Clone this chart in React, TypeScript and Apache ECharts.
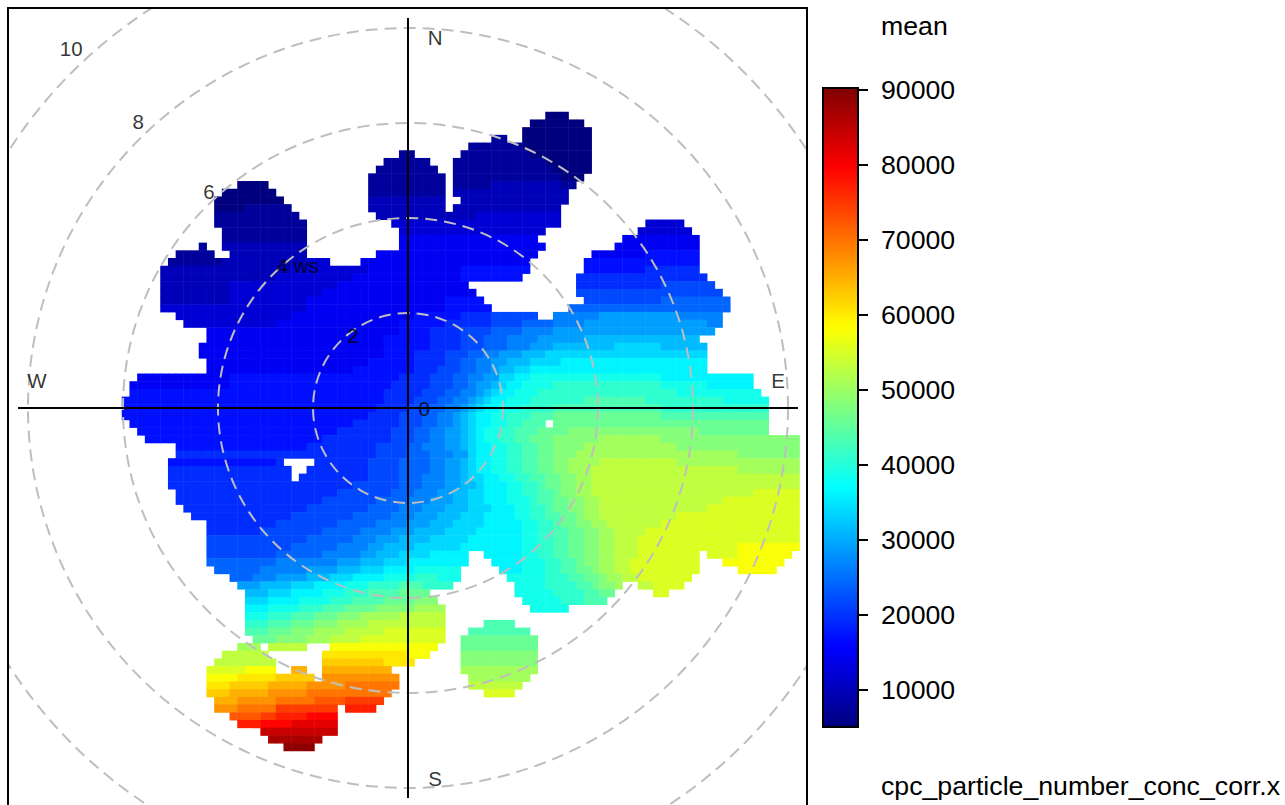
import React, { useEffect, useRef } from "react";
import * as echarts from "echarts";

const FONT = "Liberation Sans";

// Colour key: values, one run-coded row per band.
// A row alternates: column, level, column, level, ... end column. "_" is a cell with no data.
const LEVELS = "0123456789ABCDEFGHIJKLMNOPQRSTUVWXYZ";
const LEVEL_BASE = 5000;
const LEVEL_STEP = 2400;
const COLS = 88;

const CELL_ROWS = [
  "55 0 58",
  "53 0 60",
  "52 0 61",
  "48 1 50 _ 52 0 61",
  "45 1 52 0 61",
  "36 1 38 _ 44 1 53 0 61",
  "34 1 40 _ 43 1 55 0 61",
  "33 1 41 _ 43 1 56 0 61",
  "32 1 42 _ 43 1 57 0 60",
  "15 0 19 _ 32 1 42 _ 43 1 48 2 57 1 59",
  "13 0 20 _ 32 1 42 _ 43 2 58",
  "12 0 21 _ 32 2 42 _ 44 2 58",
  "12 0 16 1 22 _ 32 2 42 _ 43 2 57",
  "12 1 23 _ 33 2 46 3 57",
  "12 1 24 _ 35 3 57 _ 68 3 73",
  "13 1 24 _ 36 3 55 _ 67 3 74",
  "13 1 24 _ 36 4 54 _ 65 4 75",
  "10 1 11 _ 13 2 24 _ 36 4 55 _ 64 4 75",
  "7 1 12 _ 14 2 24 _ 33 4 54 _ 61 4 68 5 75",
  "6 1 13 2 24 3 27 _ 31 4 53 _ 60 5 75",
  "5 2 22 3 32 4 44 5 53 _ 60 5 68 6 75",
  "5 2 20 3 30 4 44 5 52 _ 59 6 76",
  "5 2 14 3 28 4 45 _ 59 6 70 7 77",
  "5 2 14 3 26 4 46 _ 59 7 78",
  "5 2 14 3 24 4 42 5 47 _ 60 7 70 8 79",
  "5 3 24 4 42 5 48 _ 58 8 79",
  "7 3 22 4 38 5 44 6 48 7 54 _ 56 9 62 A 72 9 78",
  "8 3 20 4 36 5 42 6 48 7 52 8 56 9 60 A 76 9 78",
  "11 4 36 5 40 6 44 7 48 8 52 9 56 A 77",
  "11 4 34 5 40 6 44 7 47 8 50 9 54 A 60 B 75",
  "10 4 34 5 40 6 44 7 47 8 50 9 53 A 56 B 64 C 70 B 76",
  "10 4 34 5 38 6 42 7 45 8 47 9 49 A 52 B 55 C 76",
  "11 4 32 5 38 6 42 7 44 8 46 9 48 A 50 B 53 C 57 D 76",
  "11 4 30 5 38 6 41 7 44 8 46 9 48 A 49 B 51 C 53 D 76",
  "2 4 14 5 36 6 40 7 43 8 45 9 47 A 49 C 51 D 53 E 70 D 82",
  "1 4 14 5 35 6 40 7 43 8 45 9 46 A 48 B 49 C 50 D 52 E 56 F 70 E 76 D 82",
  "1 5 34 6 39 7 42 8 44 9 46 A 47 B 48 C 49 D 51 E 54 F 72 E 83",
  "0 5 34 6 38 7 41 8 43 9 45 A 46 B 47 C 48 D 50 E 53 F 60 G 68 F 78 E 84",
  "0 5 33 6 37 7 40 8 42 9 44 A 45 B 46 C 47 D 49 E 52 F 56 G 70 F 84",
  "0 5 32 6 36 7 39 8 41 9 43 A 44 B 45 C 46 D 48 E 50 F 53 G 56 H 70 G 84",
  "1 5 30 6 36 7 39 8 41 9 43 A 44 B 45 C 46 D 48 E 50 F 52 G 55 _ 56 H 84",
  "2 5 28 6 35 7 38 8 40 9 42 A 44 B 45 C 46 D 47 E 49 F 51 G 54 H 58 I 75 H 84",
  "3 5 26 6 35 7 38 8 40 9 42 A 44 B 45 C 46 D 47 E 49 F 51 G 53 H 56 I 62 J 70 I 88",
  "7 5 24 6 33 7 37 8 39 9 42 A 44 B 45 C 46 D 48 E 50 F 52 G 54 H 56 I 60 J 72 I 88",
  "7 6 33 7 37 8 40 9 43 A 45 C 46 D 48 E 50 F 52 G 54 H 56 I 59 J 80 I 88",
  "6 5 20 6 21 _ 25 6 32 7 36 8 40 9 42 A 44 B 45 C 46 D 48 E 50 F 52 G 54 H 56 I 58 J 62 K 72 J 88",
  "6 6 22 _ 24 6 32 7 36 8 40 9 42 A 44 B 45 C 46 D 48 E 50 F 52 G 54 H 56 I 58 J 61 K 80 J 88",
  "6 6 22 _ 23 6 32 7 36 8 39 9 42 A 44 B 45 C 47 D 49 E 51 F 53 G 55 H 57 I 59 J 61 K 88",
  "6 6 30 7 36 8 39 9 42 A 44 B 46 C 47 D 50 E 52 F 54 G 55 H 57 I 59 J 61 K 88",
  "7 6 28 7 35 8 38 9 41 A 43 B 45 C 47 D 50 E 52 F 54 G 56 H 57 I 59 J 61 K 82 L 88",
  "7 6 26 7 33 8 37 9 40 A 43 B 45 C 47 D 50 E 53 F 54 G 56 H 58 I 60 J 62 K 78 L 88",
  "8 6 24 7 32 8 36 9 39 A 42 B 45 C 48 D 51 E 53 F 55 G 56 H 58 I 60 J 62 K 76 L 88",
  "9 6 22 7 30 8 35 9 38 A 41 B 44 C 47 D 51 E 53 F 55 G 57 H 59 I 60 J 62 K 72 L 88",
  "11 6 20 7 28 8 33 9 37 A 40 B 43 C 47 D 52 E 54 F 56 G 57 H 59 I 61 J 63 K 70 L 88",
  "11 6 18 7 26 8 31 9 35 A 38 B 42 C 46 D 52 E 54 F 56 G 58 H 60 I 62 J 64 K 68 L 88",
  "11 7 24 8 30 9 33 A 36 B 40 C 45 D 52 E 54 F 56 G 58 H 60 I 62 J 64 K 67 L 88",
  "11 7 22 8 28 9 32 A 34 B 38 C 44 D 52 E 54 F 56 G 58 H 60 I 62 J 64 K 67 L 80 M 88",
  "11 7 20 8 26 9 31 A 33 B 36 C 40 D 45 _ 47 D 52 E 54 F 56 G 58 H 60 I 62 J 64 K 67 L 75 _ 76 L 80 M 87",
  "11 8 20 9 28 A 31 B 34 C 37 D 45 _ 48 D 52 E 55 F 57 G 59 H 60 I 62 J 64 K 66 L 75 _ 78 M 86",
  "12 8 18 9 24 A 28 B 31 C 34 D 38 E 44 _ 49 D 52 E 55 F 57 G 59 H 61 I 62 J 64 K 66 L 75 _ 80 M 85",
  "14 8 17 9 20 A 24 B 27 C 30 D 34 E 38 F 41 E 44 _ 50 E 55 F 58 G 60 H 62 I 63 J 65 K 67 L 74",
  "15 A 18 B 22 C 25 D 29 E 32 F 36 G 39 F 43 _ 51 E 55 F 59 G 61 H 62 I 64 J 65 _ 67 K 69 L 73",
  "16 B 19 C 22 D 26 E 29 F 32 G 36 H 40 _ 51 E 56 F 60 G 62 H 64 _ 69 L 71",
  "16 C 19 D 23 E 27 F 30 G 34 H 38 I 41 _ 52 E 57 F 60 G 63",
  "16 D 19 E 23 F 26 G 29 H 33 I 38 J 42 _ 53 E 58",
  "16 E 19 F 22 G 25 H 28 I 31 J 36 K 42",
  "16 F 19 G 22 H 25 I 28 J 32 K 42 _ 47 G 51",
  "16 G 19 H 22 I 25 J 29 K 34 L 42 _ 45 G 53",
  "17 H 20 I 24 J 27 K 31 L 42 _ 44 H 54",
  "15 J 18 _ 19 K 24 _ 27 M 41 _ 44 H 54",
  "13 K 19 _ 26 N 37 M 40 _ 44 I 54",
  "12 K 20 _ 26 O 34 N 38 _ 44 I 54",
  "11 L 16 M 20 _ 22 P 24 _ 26 P 35 _ 44 J 54",
  "11 M 15 N 20 O 25 _ 26 Q 36 _ 45 J 53",
  "11 N 14 O 19 P 24 Q 29 R 36 _ 45 K 52",
  "11 O 14 P 19 Q 24 R 35 _ 47 L 51",
  "12 P 15 Q 20 R 25 S 29 T 34",
  "12 Q 15 R 20 T 28 _ 29 U 33",
  "14 S 18 T 20 U 24 V 28",
  "15 U 18 V 22 W 28",
  "18 X 28",
  "19 Y 26",
  "21 Z 25",
];

const RAMP = ["#00007F", "#0000FF", "#007FFF", "#00FFFF", "#7FFF7F", "#FFFF00", "#FF7F00", "#FF0000", "#7F0000"];
const SCALE_MIN = 5067;
const SCALE_MAX = 90267;
const SCALE_TICKS = [10000, 20000, 30000, 40000, 50000, 60000, 70000, 80000, 90000];

const RINGS = [2, 4, 6, 8, 10];
const WS_LABELS = [
  { name: "0", value: [0.34, 0] },
  { name: "2", value: [-1.16, 1.52] },
  { name: "4 ws", value: [-2.32, 3.01] },
  { name: "6", value: [-4.19, 4.55] },
  { name: "8", value: [-5.68, 6.04] },
  { name: "10", value: [-7.09, 7.56] },
];
const DIR_LABELS = [
  { name: "N", value: [0.57, 7.79] },
  { name: "S", value: [0.57, -7.79] },
  { name: "W", value: [-7.81, 0.57] },
  { name: "E", value: [7.79, 0.57] },
];
const AXIS_H = [[-8.21, 0], [8.21, 0]];
const AXIS_V = [[0, 8.21], [0, -8.21]];

function cellData(): number[][] {
  const out: number[][] = [];
  CELL_ROWS.forEach((row, r) => {
    const t = row.split(" ");
    for (let i = 0; i + 2 < t.length; i += 2) {
      if (t[i + 1] === "_") continue;
      const value = LEVEL_BASE + LEVEL_STEP * LEVELS.indexOf(t[i + 1]);
      for (let c = +t[i]; c < +t[i + 2]; c++) out.push([c, r, value]);
    }
  });
  return out;
}

export default function App() {
  const ref = useRef<HTMLDivElement>(null);
  useEffect(() => {
    document.body.style.margin = "0";
    document.body.style.overflow = "hidden";
    const chart = echarts.init(ref.current!, undefined, { renderer: "svg" });
    const labelSeries = (data: any[], z: number) => ({
      type: "scatter",
      xAxisIndex: 0,
      yAxisIndex: 0,
      z,
      silent: true,
      symbolSize: 1,
      itemStyle: { color: "transparent" },
      data,
      label: {
        show: true,
        position: "inside",
        formatter: "{b}",
        fontFamily: FONT,
        fontSize: 20.5,
        color: "#000",
        textBorderWidth: 0,
      },
    });
    chart.setOption({
      animation: false,
      backgroundColor: "#fff",
      grid: [
        { left: 8, top: 8, width: 799, height: 800, outerBoundsMode: "none", containLabel: false, show: true, borderColor: "#000", borderWidth: 2, backgroundColor: "transparent", z: 5 },
        { left: 122, top: 112, width: 677.6, height: 639, outerBoundsMode: "none" },
        { left: 823, top: 88, width: 35, height: 639, outerBoundsMode: "none", show: true, borderColor: "#000", borderWidth: 2, backgroundColor: "transparent", z: 5 },
      ],
      xAxis: [
        { type: "value", gridIndex: 0, min: -8.421, max: 8.4, show: false },
        { type: "category", gridIndex: 1, data: Array.from({ length: COLS }, (_, i) => i), show: false },
        { type: "category", gridIndex: 2, data: ["mean"], show: false },
      ],
      yAxis: [
        { type: "value", gridIndex: 0, min: -8.421, max: 8.421, show: false },
        { type: "category", gridIndex: 1, inverse: true, data: CELL_ROWS.map((_, i) => i), show: false },
        {
          type: "value",
          gridIndex: 2,
          position: "right",
          min: SCALE_MIN,
          max: SCALE_MAX,
          splitLine: { show: false },
          axisLine: { show: false },
          axisTick: { show: true, length: 10, customValues: SCALE_TICKS, lineStyle: { color: "#000", width: 2 } },
          axisLabel: { show: true, margin: 23, customValues: SCALE_TICKS, formatter: (v: number) => String(v), fontFamily: FONT, fontSize: 26.7, color: "#000" },
        },
      ],
      visualMap: {
        type: "continuous",
        seriesIndex: 0,
        dimension: 2,
        min: SCALE_MIN,
        max: SCALE_MAX,
        inRange: { color: RAMP },
        calculable: false,
        hoverLink: false,
        left: 823,
        top: 88,
        itemWidth: 35,
        itemHeight: 639,
        padding: 0,
        text: null,
        z: 1,
      },
      series: [
        {
          type: "heatmap",
          xAxisIndex: 1,
          yAxisIndex: 1,
          data: cellData(),
          z: 1,
          progressive: 0,
          silent: true,
          itemStyle: { borderWidth: 0 },
        },
        {
          type: "custom",
          xAxisIndex: 0,
          yAxisIndex: 0,
          z: 2,
          clip: true,
          silent: true,
          data: RINGS.map((r) => [r]),
          encode: { x: 0 },
          renderItem: (_: any, api: any) => {
            const c = api.coord([0, 0]);
            const r = api.size([api.value(0), 0])[0];
            return {
              type: "circle",
              shape: { cx: c[0], cy: c[1], r },
              style: { fill: "none", stroke: "#BEBEBE", lineWidth: 2, lineDash: [12, 7] },
            };
          },
        },
        { type: "line", xAxisIndex: 0, yAxisIndex: 0, z: 3, silent: true, symbol: "none", data: AXIS_H, lineStyle: { color: "#000", width: 2 } },
        { type: "line", xAxisIndex: 0, yAxisIndex: 0, z: 3, silent: true, symbol: "none", data: AXIS_V, lineStyle: { color: "#000", width: 2 } },
        labelSeries(WS_LABELS, 4),
        labelSeries(DIR_LABELS, 4),
      ],
      graphic: [
        { type: "text", x: 881, y: 26, z: 10, style: { text: "mean", font: `26.7px "${FONT}"`, fill: "#000", textVerticalAlign: "middle" } },
        { type: "text", x: 881, y: 786, z: 10, style: { text: "cpc_particle_number_conc_corr.x", font: `26.7px "${FONT}"`, fill: "#000", textVerticalAlign: "middle" } },
      ],
    });
    return () => chart.dispose();
  }, []);
  return <div ref={ref} style={{ width: 1285, height: 805 }} />;
}
